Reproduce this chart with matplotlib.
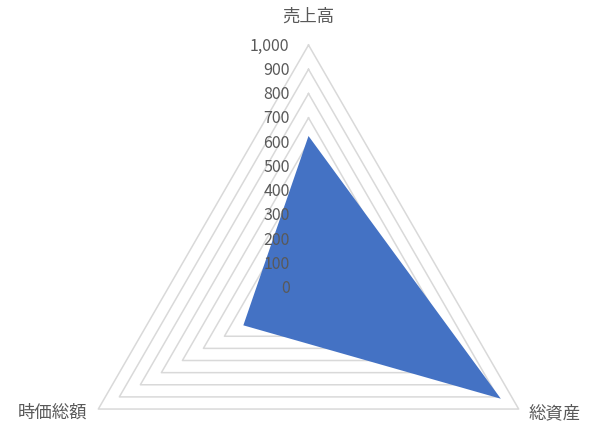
import numpy as np
import matplotlib.pyplot as plt

plt.rcParams['font.family'] = ['Noto Sans CJK JP', 'DejaVu Sans']

categories = ['売上高', '総資産', '時価総額']
values = [625, 915, 310]
ticks = [0, 100, 200, 300, 400, 500, 600, 700, 800, 900, 1000]
tick_labels = ['0', '100', '200', '300', '400', '500', '600', '700', '800', '900', '1,000']

W, H = 601, 432
cx, cy, R = 308.5, H - 287.7, 242.7  # centre et rayon en pixels

fig = plt.figure(figsize=(W / 100, H / 100), dpi=100)
ax = fig.add_axes([(cx - R) / W, (cy - R) / H, 2 * R / W, 2 * R / H], projection='polar')
ax.set_theta_offset(np.pi / 2)
ax.set_theta_direction(-1)
ax.set_ylim(0, 1000)
ax.axis('off')

angles = np.linspace(0, 2 * np.pi, len(categories), endpoint=False)
closed = np.append(angles, angles[0])

# grille en triangles
for t in ticks[1:]:
    ax.plot(closed, [t] * len(closed), color='#d9d9d9', lw=1.1, clip_on=False, zorder=1)

# série
ax.fill(closed, values + [values[0]], color='#4472c4', lw=0, clip_on=False, zorder=2)

# étiquettes de l'axe
for t, lab in zip(ticks, tick_labels):
    ax.annotate(lab, xy=(0, t), xytext=(-19, -1), textcoords='offset pixels',
                ha='right', va='center', fontsize=11.5, color='#595959', zorder=3,
                annotation_clip=False)

# noms des catégories
offsets = [((0, 28), 'center'), ((10, -4), 'left'), ((-11, -4), 'right')]
for a, name, (off, ha) in zip(angles, categories, offsets):
    ax.annotate(name, xy=(a, 1000), xytext=off, textcoords='offset pixels',
                ha=ha, va='center', fontsize=12.5, color='#595959',
                annotation_clip=False)

fig.savefig('out.png', dpi=100, facecolor='white')
